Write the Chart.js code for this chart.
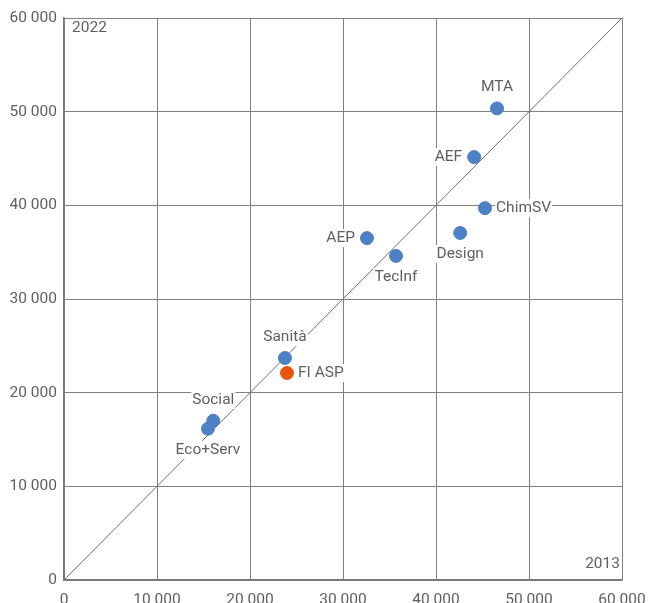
<!DOCTYPE html>
<html>
<head>
<meta charset="utf-8">
<script src="https://cdn.jsdelivr.net/npm/chart.js@4/dist/chart.umd.min.js"></script>
<style>
  html, body { margin: 0; padding: 0; background: #fff; overflow: hidden; }
  #wrap { width: 649px; height: 620px; }
</style>
</head>
<body>
<div id="wrap"><canvas id="chart" width="649" height="620"></canvas></div>
<script>
// Data (x = 2013, y = 2022)
const names   = ['MTA', 'AEF', 'ChimSV', 'Design', 'AEP', 'TecInf', 'Sanità', 'Social', 'Eco+Serv'];
const values2013 = [46560, 44100, 45270, 42600, 32580, 35700, 23760, 16050, 15480];
const values2022 = [50350, 45150, 39700, 37050, 36500, 34600, 23700, 17000, 16150];
const labelSides = ['top', 'left', 'right', 'bottom', 'left', 'bottom', 'top', 'top', 'bottom'];

const highlightName = 'FI ASP';
const highlight2013 = [23980];
const highlight2022 = [22100];

const axisTicks = [0, 10000, 20000, 30000, 40000, 50000, 60000];

const blue = '#4e80c6';
const orange = '#e8560e';
const textGray = '#5f5f5f';
const gridGray = '#808080';

Chart.defaults.font.family = "Roboto, 'Noto Sans', sans-serif";
Chart.defaults.color = textGray;

function fmt(v) {
    return String(v).replace(/\B(?=(\d{3})+(?!\d))/g, ' ');
}

// point labels with white background + corner captions
const labelPlugin = {
    id: 'pointLabels',
    afterDatasetsDraw(chart) {
        const ctx = chart.ctx;
        ctx.save();
        ctx.font = "15.5px Roboto, 'Noto Sans', sans-serif";
        ctx.textBaseline = 'middle';

        function put(text, px, py, side) {
            const w = ctx.measureText(text).width;
            let x, y = py;
            if (side === 'top') { x = px - w / 2; y = py - 21; }
            else if (side === 'bottom') { x = px - w / 2; y = py + 21; }
            else if (side === 'left') { x = px - 12 - w; }
            else { x = px + 11; }
            ctx.fillStyle = '#fff';
            ctx.fillRect(x - 1, y - 9, w + 2, 18);
            ctx.fillStyle = textGray;
            ctx.textAlign = 'left';
            ctx.fillText(text, x, y);
        }

        const m0 = chart.getDatasetMeta(0);
        m0.data.forEach((pt, i) => put(names[i], pt.x, pt.y, labelSides[i]));
        const m1 = chart.getDatasetMeta(1);
        m1.data.forEach((pt) => put(highlightName, pt.x, pt.y, 'right'));

        const a = chart.chartArea;
        ctx.fillStyle = textGray;
        ctx.textAlign = 'left';
        ctx.fillText('2022', a.left + 8, a.top + 10);
        ctx.textAlign = 'right';
        ctx.fillText('2013', a.right - 2, a.bottom - 16);
        ctx.restore();
    }
};

new Chart(document.getElementById('chart').getContext('2d'), {
    type: 'scatter',
    data: {
        datasets: [
            {
                label: '2022 vs 2013',
                data: values2013.map((v, i) => ({ x: v, y: values2022[i] })),
                backgroundColor: blue,
                borderColor: blue,
                pointRadius: 6.5,
                order: 1
            },
            {
                label: highlightName,
                data: highlight2013.map((v, i) => ({ x: v, y: highlight2022[i] })),
                backgroundColor: orange,
                borderColor: orange,
                pointRadius: 6.5,
                order: 0
            },
            {
                label: 'diag',
                type: 'line',
                data: [{ x: axisTicks[0], y: axisTicks[0] }, { x: axisTicks[axisTicks.length - 1], y: axisTicks[axisTicks.length - 1] }],
                borderColor: '#6f6f6f',
                borderWidth: 1,
                pointRadius: 0,
                order: 5
            }
        ]
    },
    options: {
        responsive: false,
        animation: false,
        layout: { padding: { top: 18, right: 27, left: 0, bottom: 0 } },
        plugins: { legend: { display: false }, tooltip: { enabled: false } },
        scales: {
            x: {
                type: 'linear',
                min: axisTicks[0],
                max: axisTicks[axisTicks.length - 1],
                afterBuildTicks: (s) => { s.ticks = axisTicks.map(v => ({ value: v })); },
                afterFit: (s) => { s.height = 40; s.paddingLeft = 0; s.paddingRight = 0; },
                grid: { color: gridGray, drawTicks: false, lineWidth: 1 },
                border: { color: '#777', width: 1.5 },
                ticks: { padding: 11, font: { size: 15.5 }, color: textGray, callback: (v) => fmt(v), maxRotation: 0 }
            },
            y: {
                type: 'linear',
                min: axisTicks[0],
                max: axisTicks[axisTicks.length - 1],
                afterBuildTicks: (s) => { s.ticks = axisTicks.map(v => ({ value: v })); },
                afterFit: (s) => { s.width = 64; s.paddingTop = 0; s.paddingBottom = 0; },
                grid: { color: gridGray, drawTicks: false, lineWidth: 1 },
                border: { color: '#777', width: 1.5 },
                ticks: { padding: 7, font: { size: 15.5 }, color: textGray, callback: (v) => fmt(v) }
            }
        }
    },
    plugins: [labelPlugin]
});
</script>
</body>
</html>
